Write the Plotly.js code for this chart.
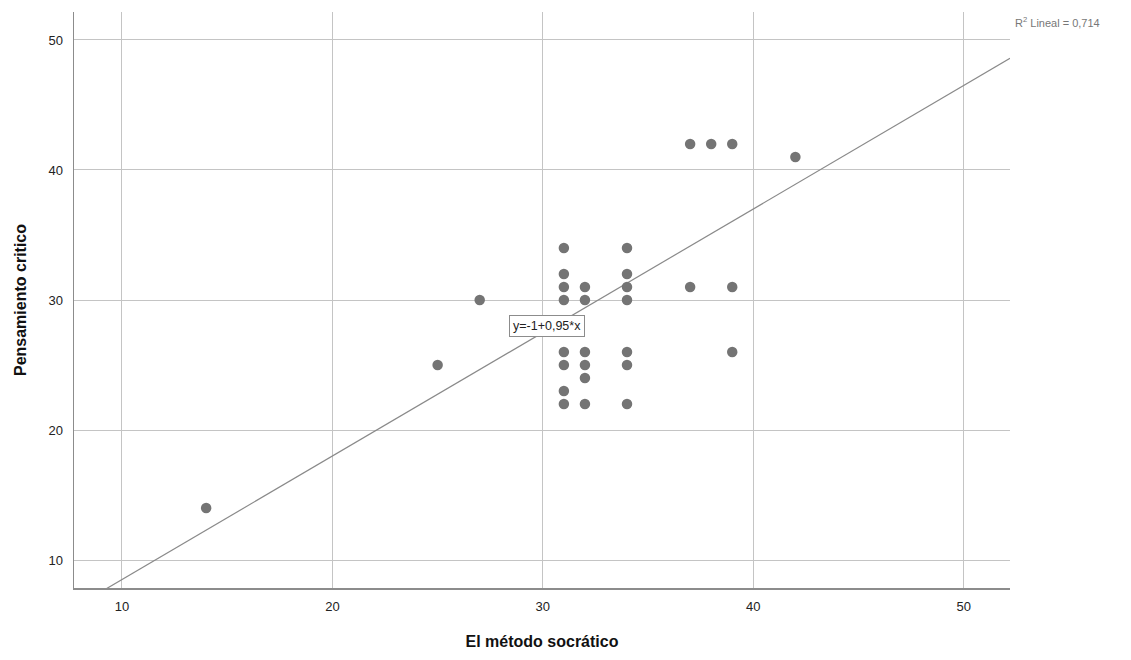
<!DOCTYPE html>
<html>
<head>
<meta charset="utf-8">
<script src="https://cdn.plot.ly/plotly-3.0.1.min.js"></script>
<style>html,body{margin:0;padding:0;background:#fff;}#chart{width:1131px;height:660px;}</style>
</head>
<body>
<div id="chart"></div>
<script>
// Data
const metodoSocratico = [14, 25, 27, 31, 31, 31, 31, 31, 31, 31, 31, 32, 32, 32, 32, 32, 32, 34, 34, 34, 34, 34, 34, 34, 37, 38, 39, 42, 37, 39, 39];
const pensamientoCritico = [14, 25, 30, 34, 32, 31, 30, 26, 25, 23, 22, 31, 30, 26, 25, 24, 22, 34, 32, 31, 30, 26, 25, 22, 42, 42, 42, 41, 31, 31, 26];
const fitIntercept = -1;
const fitSlope = 0.95;
const fitLabel = "y=-1+0,95*x";
const r2Label = "R<sup>2</sup> Lineal = 0,714";
const xTicks = [10, 20, 30, 40, 50];
const yTicks = [10, 20, 30, 40, 50];
const xRange = [7.72, 52.2];
const yRange = [7.85, 52.15];

const lineX = [xRange[0], xRange[1]];
const lineY = lineX.map(x => fitIntercept + fitSlope * x);

const traces = [
  {
    x: lineX, y: lineY, mode: 'lines', type: 'scatter',
    line: {color: '#8a8a8a', width: 1.2}, hoverinfo: 'skip', cliponaxis: true
  },
  {
    x: metodoSocratico, y: pensamientoCritico, mode: 'markers', type: 'scatter',
    marker: {color: '#747474', size: 10.5, line: {width: 0}}
  }
];

const plotH = 660 - 12 - 72;
const plotW = 1131 - 74 - 121;

const layout = {
  width: 1131, height: 660,
  margin: {l: 74, r: 121, t: 12, b: 72},
  paper_bgcolor: '#ffffff', plot_bgcolor: '#ffffff',
  showlegend: false,
  font: {family: 'Liberation Sans, Arial, sans-serif', color: '#222', size: 12},
  xaxis: {
    range: xRange, tickvals: xTicks, ticktext: xTicks.map(String),
    showgrid: true, gridcolor: '#c4c4c4', gridwidth: 1,
    zeroline: false, showline: true, linecolor: '#8c8c8c', linewidth: 1.5,
    ticks: '', ticklabelstandoff: 6,
    tickfont: {size: 13, color: '#222'},
    title: {text: 'El método socrático', font: {size: 16, color: '#111', family: 'Liberation Sans, Arial, sans-serif', weight: 'bold'}, standoff: 22}
  },
  yaxis: {
    range: yRange, tickvals: yTicks, ticktext: yTicks.map(String),
    showgrid: true, gridcolor: '#c4c4c4', gridwidth: 1,
    zeroline: false, showline: true, linecolor: '#8c8c8c', linewidth: 1.5,
    ticks: '', ticklabelstandoff: 7,
    tickfont: {size: 13, color: '#222'},
    title: {text: 'Pensamiento critico', font: {size: 16, color: '#111', family: 'Liberation Sans, Arial, sans-serif', weight: 'bold'}, standoff: 18}
  },
  annotations: [
    {
      x: 30.2, y: 28.0, xref: 'x', yref: 'y', text: fitLabel, showarrow: false,
      font: {size: 12.5, color: '#222'}, bgcolor: '#ffffff', bordercolor: '#8c8c8c', borderwidth: 1, borderpad: 3
    },
    {
      x: 1.0 + 3 / plotW, y: 1.0 - 10 / plotH, xref: 'paper', yref: 'paper', text: r2Label, showarrow: false,
      xanchor: 'left', yanchor: 'middle', font: {size: 11, color: '#777'}
    }
  ]
};

Plotly.newPlot('chart', traces, layout, {displayModeBar: false, staticPlot: true});
</script>
</body>
</html>
